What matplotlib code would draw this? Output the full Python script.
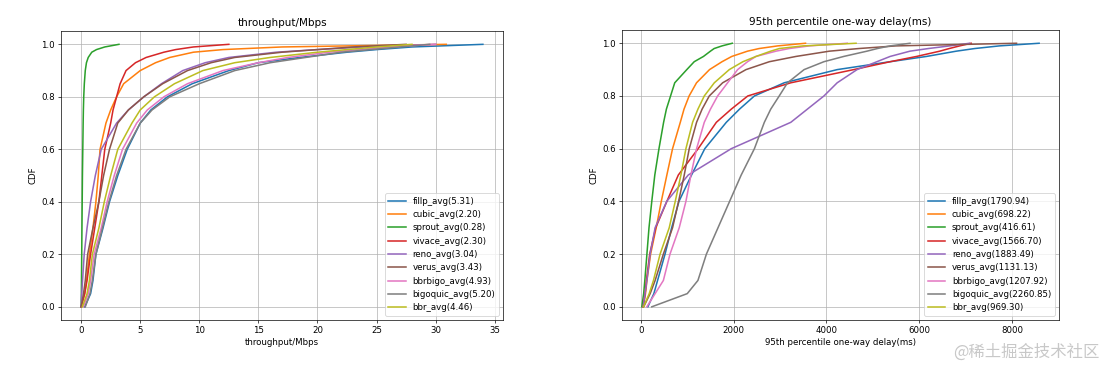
import matplotlib
matplotlib.use("Agg")
import matplotlib.pyplot as plt

levels = [0, 0.05, 0.1, 0.2, 0.3, 0.4, 0.5, 0.6, 0.7, 0.75, 0.8,
          0.85, 0.9, 0.93, 0.95, 0.97, 0.98, 0.99, 1.0]

names = ["fillp", "cubic", "sprout", "vivace", "reno",
         "verus", "bbrbigo", "bigoquic", "bbr"]

tput_avg = [5.31, 2.20, 0.28, 2.30, 3.04, 3.43, 4.93, 5.20, 4.46]
delay_avg = [1790.94, 698.22, 416.61, 1566.70, 1883.49,
             1131.13, 1207.92, 2260.85, 969.30]

# throughput (Mbps) at each CDF level
tput_fillp = [0.3, 0.8, 1.0, 1.25, 1.85, 2.4, 3.1, 3.9, 5.0, 5.9, 7.3,
              9.4, 12.5, 15.0, 18.5, 22.5, 25.0, 28.0, 34.0]
tput_cubic = [0.0, 0.3, 0.45, 0.7, 1.0, 1.25, 1.45, 1.6, 2.1, 2.5, 3.0,
              3.6, 5.0, 6.3, 7.5, 9.5, 12.0, 17.0, 30.9]
tput_sprout = [0.0, 0.02, 0.03, 0.05, 0.07, 0.09, 0.11, 0.14, 0.17, 0.19, 0.22,
               0.27, 0.35, 0.45, 0.6, 0.9, 1.3, 2.0, 3.2]
tput_vivace = [0.0, 0.3, 0.5, 0.8, 1.15, 1.5, 1.75, 2.0, 2.5, 2.7, 3.0,
               3.3, 3.8, 4.6, 5.5, 7.0, 8.0, 9.5, 12.5]
tput_reno = [0.0, 0.05, 0.12, 0.26, 0.5, 0.8, 1.2, 1.7, 3.0, 4.0, 5.3,
             6.8, 8.6, 10.5, 12.5, 16.5, 20.0, 24.0, 30.0]
tput_verus = [0.0, 0.2, 0.35, 0.55, 1.0, 1.5, 1.9, 2.4, 3.1, 4.0, 5.3,
              6.9, 9.0, 11.0, 13.0, 17.0, 20.0, 23.0, 27.5]
tput_bbrbigo = [0.2, 0.6, 0.8, 1.1, 1.7, 2.2, 2.8, 3.5, 4.7, 5.6, 7.0,
                9.0, 12.0, 15.0, 17.5, 21.0, 23.5, 26.0, 30.0]
tput_bigoquic = [0.35, 0.75, 0.95, 1.25, 1.8, 2.35, 3.0, 3.8, 5.0, 6.0, 7.5,
                 10.0, 13.0, 16.0, 19.0, 22.0, 24.5, 27.0, 29.5]
tput_bbr = [0.1, 0.5, 0.7, 0.95, 1.5, 1.96, 2.5, 3.1, 4.3, 5.0, 6.2,
            7.9, 10.3, 13.0, 16.0, 20.0, 22.5, 25.0, 28.0]

# 95th percentile one-way delay (ms) at each CDF level
delay_fillp = [150, 280, 360, 521, 664, 821, 1092, 1378, 1842, 2127, 2448,
               3091, 4233, 5375, 6160, 6802, 7200, 7730, 8587]
delay_cubic = [50, 100, 130, 210, 330, 440, 560, 683, 850, 930, 1040,
               1200, 1480, 1750, 1960, 2300, 2550, 2950, 3550]
delay_sprout = [20, 60, 85, 130, 175, 235, 300, 390, 490, 550, 640,
                730, 990, 1150, 1350, 1500, 1580, 1750, 1970]
delay_vivace = [50, 90, 120, 190, 320, 560, 807, 1235, 1627, 1949, 2305,
                3233, 4590, 5375, 5946, 6445, 6650, 6874, 7123]
delay_reno = [50, 90, 130, 200, 307, 557, 1021, 1949, 3233, 3590, 3947,
              4233, 4661, 5089, 5375, 5803, 6200, 6660, 7088]
delay_verus = [60, 200, 307, 485, 683, 813, 935, 1043, 1201, 1320, 1475,
               1763, 2266, 2770, 3345, 4065, 4700, 5500, 8100]
delay_bbrbigo = [128, 307, 485, 628, 827, 971, 1079, 1201, 1367, 1500, 1655,
                 1870, 2086, 2300, 2482, 2914, 3200, 3633, 4450]
delay_bigoquic = [235, 1000, 1230, 1413, 1663, 1913, 2163, 2448, 2662, 2800, 2983,
                  3162, 3519, 3947, 4375, 4875, 5100, 5375, 5803]
delay_bbr = [57, 180, 271, 414, 611, 741, 863, 971, 1115, 1230, 1367,
             1583, 1906, 2200, 2482, 2800, 2986, 3500, 4640]

tput = [tput_fillp, tput_cubic, tput_sprout, tput_vivace, tput_reno,
        tput_verus, tput_bbrbigo, tput_bigoquic, tput_bbr]
delay = [delay_fillp, delay_cubic, delay_sprout, delay_vivace, delay_reno,
         delay_verus, delay_bbrbigo, delay_bigoquic, delay_bbr]

fig = plt.figure(figsize=(1116 / 62, 376 / 62), dpi=62)
ax1 = fig.add_axes([0.0547, 0.149, 0.396, 0.768])
ax2 = fig.add_axes([0.5573, 0.149, 0.3916, 0.771])

for name, avg, vals in zip(names, tput_avg, tput):
    ax1.plot(vals, levels, label=f"{name}_avg({avg:.2f})", linewidth=1.8)
ax1.set_title("throughput/Mbps")
ax1.set_xlabel("throughput/Mbps")
ax1.set_ylabel("CDF")
ax1.set_xticks([0, 5, 10, 15, 20, 25, 30, 35])
ax1.grid(True)
ax1.legend(loc="lower right")

for name, avg, vals in zip(names, delay_avg, delay):
    ax2.plot(vals, levels, label=f"{name}_avg({avg:.2f})", linewidth=1.8)
ax2.set_title("95th percentile one-way delay(ms)")
ax2.set_xlabel("95th percentile one-way delay(ms)")
ax2.set_ylabel("CDF")
ax2.set_xticks([0, 2000, 4000, 6000, 8000])
ax2.grid(True)
ax2.legend(loc="lower right")

fig.text(1100 / 1116, 1 - 352 / 376, "@稀土掘金技术社区", ha="right", va="center",
         fontsize=19, color="#c8c8c8",
         family=["Noto Sans CJK SC", "DejaVu Sans"])

fig.savefig("out.png", dpi=62)
